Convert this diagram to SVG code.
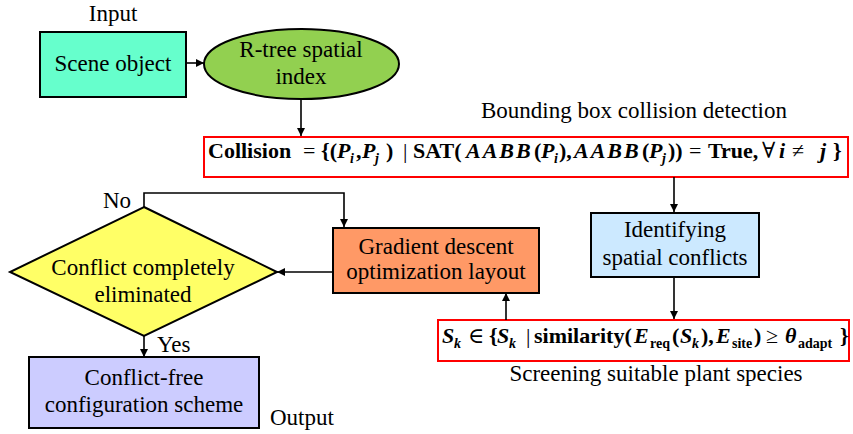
<svg xmlns="http://www.w3.org/2000/svg" width="853" height="434" viewBox="0 0 853 434" font-family="'Liberation Serif', 'DejaVu Serif', serif">
  <defs>
    <marker id="arrow" viewBox="0 0 10 10" refX="10" refY="5" markerWidth="8" markerHeight="8" markerUnits="userSpaceOnUse" orient="auto">
      <path d="M0,0 L10,5 L0,10 Z" fill="#000"/>
    </marker>
    <style>
      text { font-family: 'Liberation Serif', 'DejaVu Serif', serif; fill: #000; }
      .lbl { font-size: 23px; text-anchor: middle; }
      .side { font-size: 23px; }
      .node { stroke: #000; stroke-width: 2; }
      .eqbox { fill: #fff; stroke: #ff0000; stroke-width: 2; }
      .eq { font-size: 22px; font-weight: bold; }
      .it { font-style: italic; }
      .wide { letter-spacing: 2px; }
      .sub { font-size: 14px; }
      .thin { font-weight: normal; }
      .conn { fill: none; stroke: #000; stroke-width: 1.6; }
    </style>
  </defs>

  <rect width="853" height="434" fill="#fff"/>

  <!-- free labels -->
  <text class="lbl" x="113" y="21">Input</text>
  <text class="lbl" x="634" y="118">Bounding box collision detection</text>
  <text class="lbl" x="656" y="381">Screening suitable plant species</text>
  <text class="side" x="131" y="208" text-anchor="end">No</text>
  <text class="side" x="157" y="352">Yes</text>
  <text class="side" x="270" y="425">Output</text>

  <g id="scene-object">
    <rect class="node" x="40" y="32" width="146" height="65" fill="#66ffcc"/>
    <text class="lbl" x="113" y="71">Scene object</text>
  </g>

  <g id="rtree-index">
    <ellipse class="node" cx="301.5" cy="64" rx="97.5" ry="35" fill="#92d050"/>
    <text class="lbl" x="301" y="57">R-tree spatial</text>
    <text class="lbl" x="301" y="84">index</text>
  </g>

  <g id="collision-detection">
    <rect class="eqbox" x="204" y="137" width="644" height="40"/>
    <text class="eq">
      <tspan x="208" y="158">Collision</tspan>
      <tspan x="303" y="158" class="thin">=</tspan>
      <tspan x="321" y="158">{(</tspan>
      <tspan x="337" y="158" class="it">P</tspan>
      <tspan x="350" y="163" class="it sub">i</tspan>
      <tspan x="356" y="158">,</tspan>
      <tspan x="362" y="158" class="it">P</tspan>
      <tspan x="375" y="163" class="it sub">j</tspan>
      <tspan x="386" y="158">)</tspan>
      <tspan x="403" y="158" class="thin">|</tspan>
      <tspan x="413" y="158">SAT(</tspan>
      <tspan x="466" y="158" class="it wide">AABB</tspan>
      <tspan x="534" y="158">(</tspan>
      <tspan x="541" y="158" class="it">P</tspan>
      <tspan x="554" y="163" class="it sub">i</tspan>
      <tspan x="559" y="158">),</tspan>
      <tspan x="574" y="158" class="it wide">AABB</tspan>
      <tspan x="642" y="158">(</tspan>
      <tspan x="649" y="158" class="it">P</tspan>
      <tspan x="662" y="163" class="it sub">j</tspan>
      <tspan x="668" y="158">))</tspan>
      <tspan x="689" y="158" class="thin">=</tspan>
      <tspan x="708" y="158">True,</tspan>
      <tspan x="762" y="158" class="thin">∀</tspan>
      <tspan x="779" y="158" class="it">i</tspan>
      <tspan x="792" y="158" class="thin">≠</tspan>
      <tspan x="820" y="158" class="it">j</tspan>
      <tspan x="833" y="158">}</tspan>
    </text>
  </g>

  <g id="identify-conflicts">
    <rect class="node" x="591" y="213" width="168" height="64" fill="#cce9ff"/>
    <text class="lbl" x="675" y="237">Identifying</text>
    <text class="lbl" x="675" y="265">spatial conflicts</text>
  </g>

  <g id="screen-species">
    <rect class="eqbox" x="438" y="320" width="411" height="41"/>
    <text class="eq">
      <tspan x="442" y="343" class="it">S</tspan>
      <tspan x="454" y="348" class="it sub">k</tspan>
      <tspan x="468" y="343" class="thin">∈</tspan>
      <tspan x="489" y="343">{</tspan>
      <tspan x="497" y="343" class="it">S</tspan>
      <tspan x="509" y="348" class="it sub">k</tspan>
      <tspan x="526" y="343" class="thin">|</tspan>
      <tspan x="534" y="343">similarity(</tspan>
      <tspan x="634" y="343" class="it">E</tspan>
      <tspan x="650" y="348" class="sub">req</tspan>
      <tspan x="672" y="343">(</tspan>
      <tspan x="680" y="343" class="it">S</tspan>
      <tspan x="692" y="348" class="it sub">k</tspan>
      <tspan x="701" y="343">),</tspan>
      <tspan x="716" y="343" class="it">E</tspan>
      <tspan x="732" y="348" class="sub">site</tspan>
      <tspan x="754" y="343">)</tspan>
      <tspan x="766" y="343" class="thin">≥</tspan>
      <tspan x="785" y="343" class="it">θ</tspan>
      <tspan x="798" y="348" class="sub">adapt</tspan>
      <tspan x="840" y="343">}</tspan>
    </text>
  </g>

  <g id="gradient-layout">
    <rect class="node" x="333" y="228" width="206" height="65" fill="#ff9966"/>
    <text class="lbl" x="436" y="254">Gradient descent</text>
    <text class="lbl" x="436" y="279">optimization layout</text>
  </g>

  <g id="conflict-check">
    <polygon class="node" points="144,207 277,272 144,336 10,272" fill="#ffff66" stroke-width="1.5"/>
    <text class="lbl" x="143" y="275">Conflict completely</text>
    <text class="lbl" x="143" y="302">eliminated</text>
  </g>

  <g id="conflict-free-scheme">
    <rect class="node" x="29" y="357" width="230" height="71" fill="#ccccff"/>
    <text class="lbl" x="144" y="385">Conflict-free</text>
    <text class="lbl" x="144" y="412">configuration scheme</text>
  </g>

  <g id="connectors">
    <line class="conn" x1="186" y1="63" x2="204" y2="63" marker-end="url(#arrow)"/>
    <line class="conn" x1="301" y1="99" x2="301" y2="136" marker-end="url(#arrow)"/>
    <line class="conn" x1="674" y1="177" x2="674" y2="212" marker-end="url(#arrow)"/>
    <line class="conn" x1="674" y1="277" x2="674" y2="319" marker-end="url(#arrow)"/>
    <line class="conn" x1="506" y1="320" x2="506" y2="293" marker-end="url(#arrow)"/>
    <line class="conn" x1="333" y1="272" x2="277" y2="272" marker-end="url(#arrow)"/>
    <polyline class="conn" points="144,207 144,193 344,193 344,227" marker-end="url(#arrow)"/>
    <line class="conn" x1="144" y1="336" x2="144" y2="357" marker-end="url(#arrow)"/>
  </g>
</svg>
